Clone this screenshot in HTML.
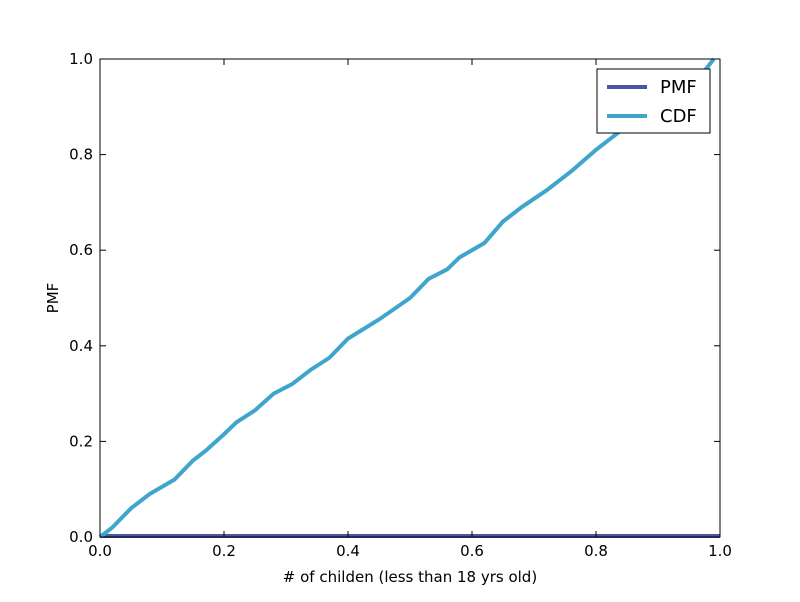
<!DOCTYPE html>
<html><head><meta charset="utf-8"><style>
body{margin:0;background:#fff;}
text{font-family:"DejaVu Sans","Liberation Sans",sans-serif;}
</style></head><body>
<svg id="chart" width="800" height="597" xmlns="http://www.w3.org/2000/svg">
<rect x="0" y="0" width="800" height="597" fill="#fff"/>
<g id="marks"></g>
<rect x="100" y="59" width="620" height="478" fill="none" stroke="#000" stroke-width="1"/>
<g id="ticks"></g>
<text x="410" y="582" font-size="15" text-anchor="middle"># of childen (less than 18 yrs old)</text>
<text x="58" y="298" font-size="15" text-anchor="middle" transform="rotate(-90 58 298)">PMF</text>
<g>
<rect x="597" y="69" width="113" height="64" fill="#fff" stroke="#000" stroke-width="1"/>
<line x1="607" y1="87" x2="647" y2="87" stroke="#4c56a6" stroke-width="4"/>
<text x="660" y="93" font-size="18">PMF</text>
<line x1="607" y1="116" x2="647" y2="116" stroke="#3fa5cc" stroke-width="4"/>
<text x="660" y="122" font-size="18">CDF</text>
</g>
</svg>
<script>
const cdfX=[0,0.02,0.05,0.08,0.12,0.15,0.17,0.2,0.22,0.25,0.28,0.31,0.34,0.37,0.4,0.45,0.5,0.53,0.56,0.58,0.62,0.65,0.68,0.72,0.76,0.8,0.84,0.88,0.92,0.96,0.99];
const cdfY=[0,0.02,0.06,0.09,0.12,0.16,0.18,0.215,0.24,0.265,0.3,0.32,0.35,0.375,0.415,0.455,0.5,0.54,0.56,0.585,0.615,0.66,0.69,0.725,0.765,0.81,0.85,0.88,0.91,0.95,1.0];
const pmfX=[0,0.1,0.2,0.3,0.4,0.5,0.6,0.7,0.8,0.9,1.0];
const pmfY=[0.002,0.002,0.002,0.002,0.002,0.002,0.002,0.002,0.002,0.002,0.002];
const xTicks=[0,0.2,0.4,0.6,0.8,1.0];
const yTicks=[0,0.2,0.4,0.6,0.8,1.0];
const xs=v=>100+v*620, ys=v=>537-v*478;
const NS="http://www.w3.org/2000/svg";
const marks=document.getElementById('marks'), ticks=document.getElementById('ticks');
function line(xa,ya,color,name){
  const p=document.createElementNS(NS,'polyline');
  p.setAttribute('points',xa.map((x,i)=>xs(x)+','+ys(ya[i])).join(' '));
  p.setAttribute('fill','none');p.setAttribute('stroke',color);p.setAttribute('stroke-width','4');
  
  
  marks.appendChild(p);
}
line(pmfX,pmfY,'#4c56a6','pmf-line');
line(cdfX,cdfY,'#3fa5cc','cdf-line');
xTicks.forEach(v=>{
  const x=xs(v);
  [[537,531],[59,65]].forEach(([a,b])=>{const l=document.createElementNS(NS,'line');l.setAttribute('x1',x);l.setAttribute('x2',x);l.setAttribute('y1',a);l.setAttribute('y2',b);l.setAttribute('stroke','#000');ticks.appendChild(l);});
  const t=document.createElementNS(NS,'text');t.setAttribute('x',x);t.setAttribute('y',556);t.setAttribute('font-size','15');t.setAttribute('text-anchor','middle');t.textContent=v.toFixed(1);
  
  
  ticks.appendChild(t);
});
yTicks.forEach(v=>{
  const y=ys(v);
  [[100,106],[720,714]].forEach(([a,b])=>{const l=document.createElementNS(NS,'line');l.setAttribute('y1',y);l.setAttribute('y2',y);l.setAttribute('x1',a);l.setAttribute('x2',b);l.setAttribute('stroke','#000');ticks.appendChild(l);});
  const t=document.createElementNS(NS,'text');t.setAttribute('x',93);t.setAttribute('y',y+5);t.setAttribute('font-size','15');t.setAttribute('text-anchor','end');t.textContent=v.toFixed(1);
  
  
  ticks.appendChild(t);
});
</script>
</body></html>
